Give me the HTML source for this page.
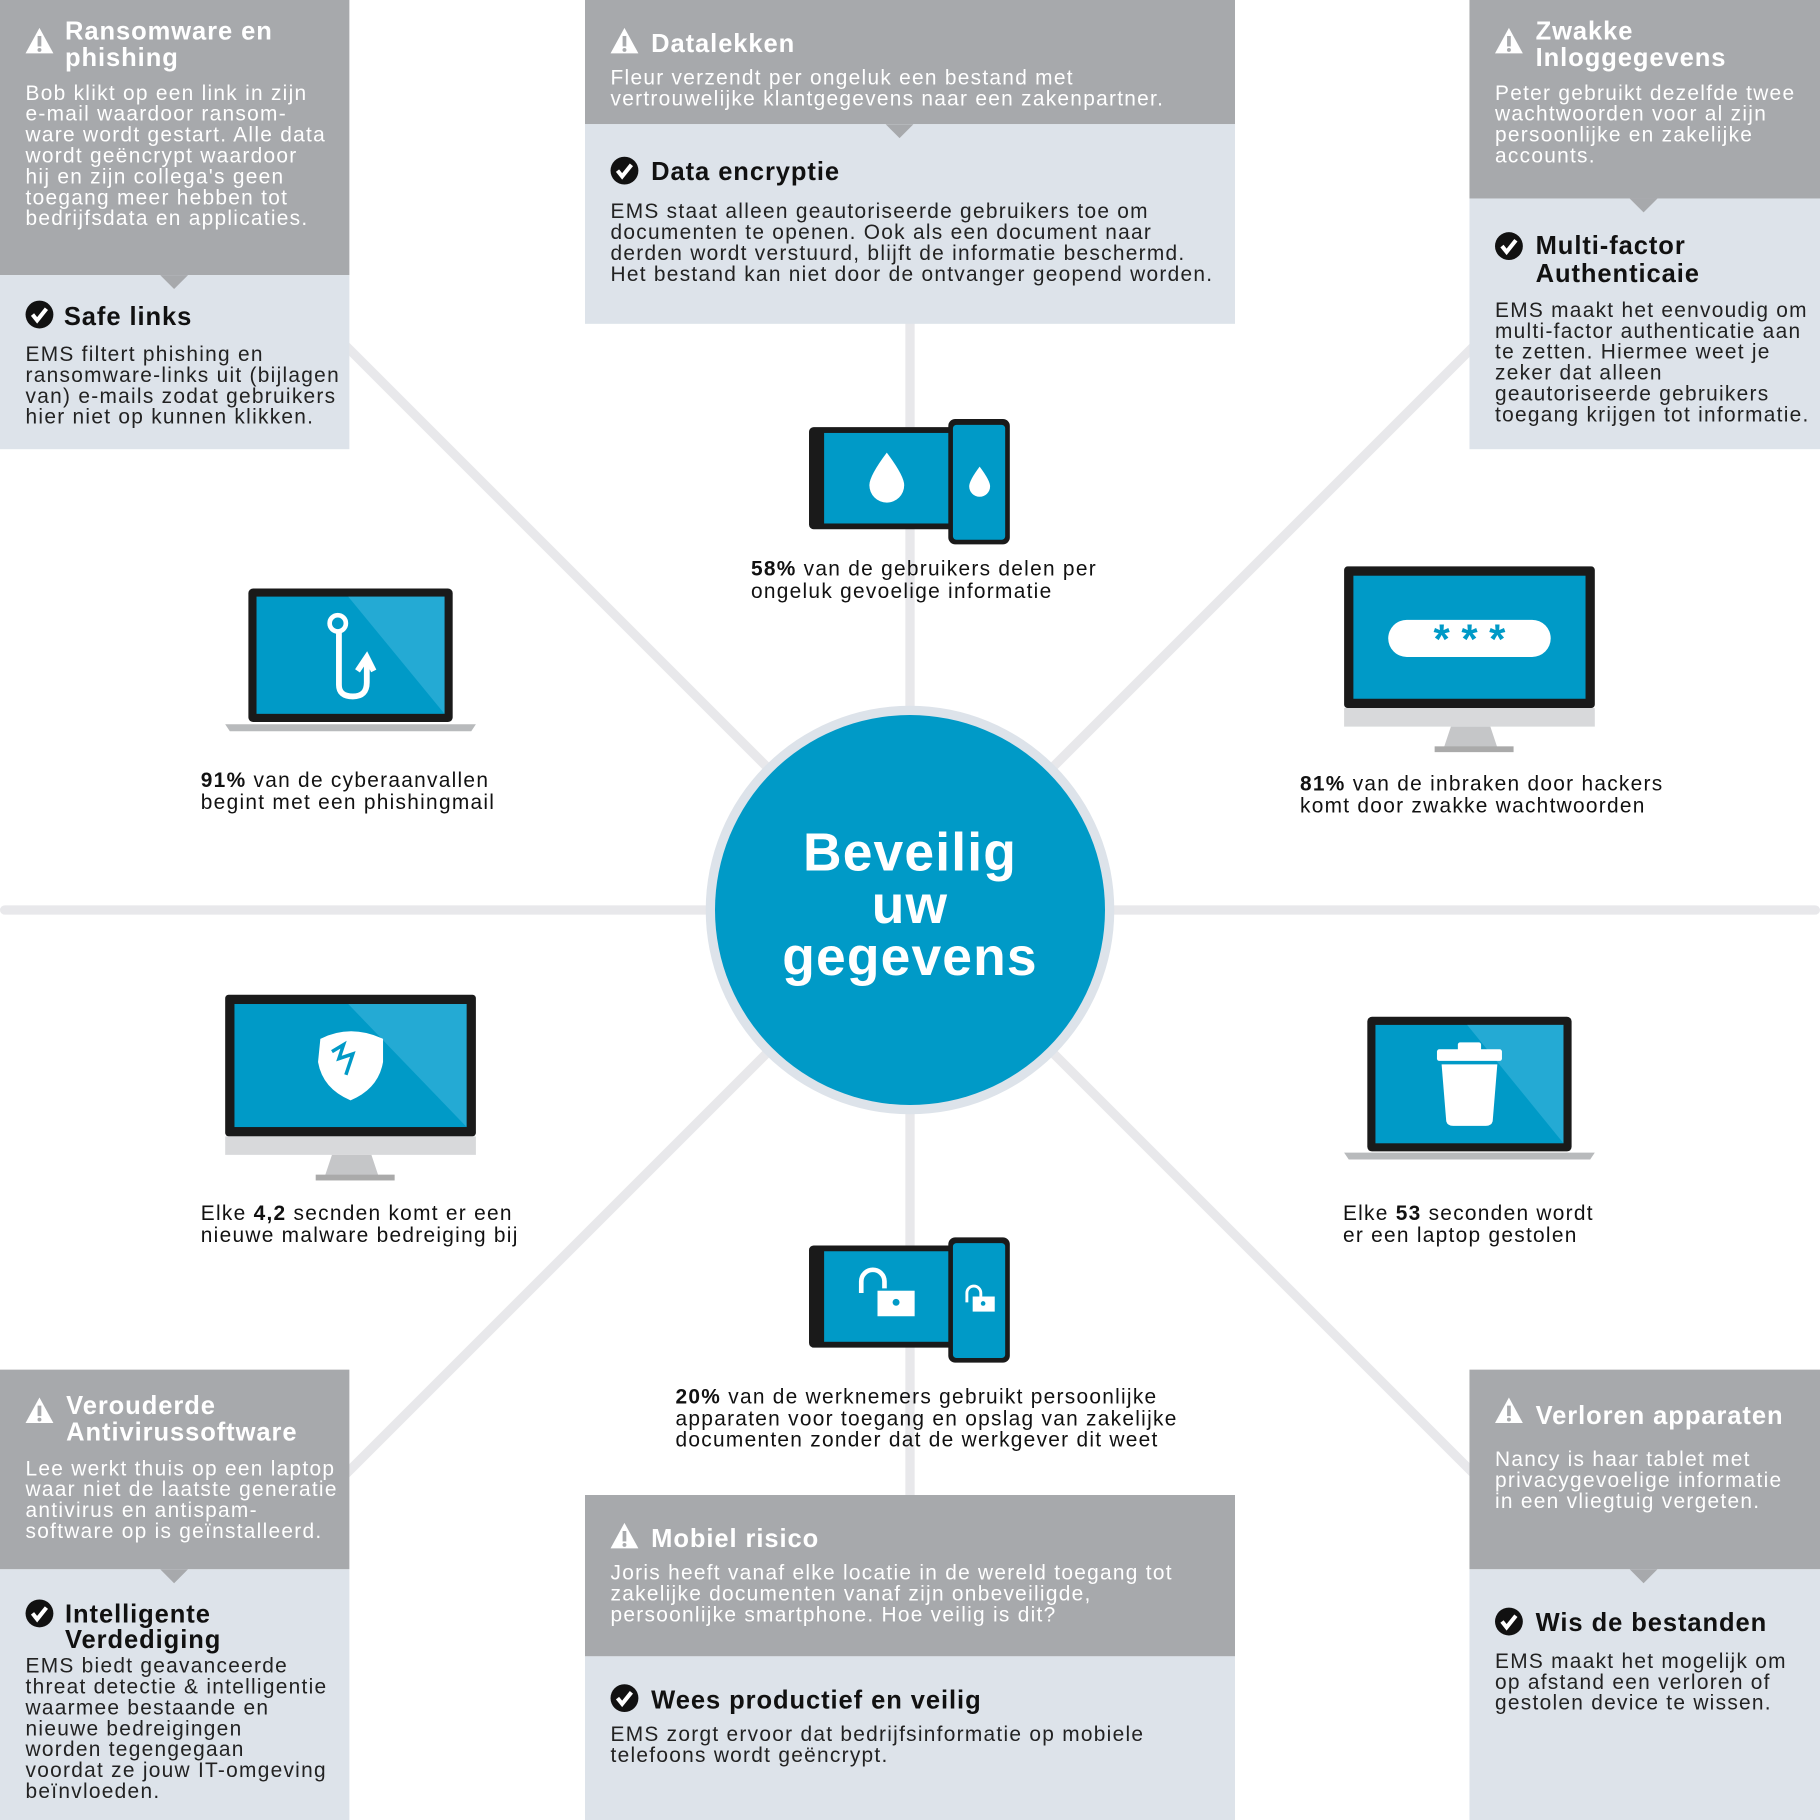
<!DOCTYPE html>
<html><head><meta charset="utf-8"><style>
html,body{margin:0;padding:0;background:#fff}
svg{display:block}
.t{font-family:"Liberation Sans",sans-serif;font-weight:bold;font-size:22px;fill:#fff;letter-spacing:0.8px}
.tb{font-family:"Liberation Sans",sans-serif;font-weight:bold;font-size:22px;fill:#111;letter-spacing:0.8px}
.w{font-family:"Liberation Sans",sans-serif;font-size:18px;fill:#fff;letter-spacing:1.1px}
.d{font-family:"Liberation Sans",sans-serif;font-size:18px;fill:#222;letter-spacing:1.1px}
.s{font-family:"Liberation Sans",sans-serif;font-size:18px;fill:#111;letter-spacing:1.1px}
</style></head><body>
<svg width="1820" height="1820" viewBox="0 0 1568 1568" xmlns="http://www.w3.org/2000/svg">
<defs>
<g id="warn"><path d="M0,-12 L12,10 L-12,10 Z" fill="#fff"/><rect x="-1.6" y="-5" width="3.2" height="9" fill="#a7a9ac"/><circle cx="0" cy="7" r="1.7" fill="#a7a9ac"/></g>
<g id="chk"><circle r="12" fill="#111"/><path d="M-6,0 L-2,5 L6,-5" stroke="#fff" stroke-width="3.5" fill="none"/></g>
</defs>
<rect width="1568" height="1568" fill="#fff"/>
<g stroke="#e8e8eb" stroke-width="8" stroke-linecap="round">
<line x1="4" y1="784" x2="1564" y2="784"/>
<line x1="784" y1="270" x2="784" y2="1290"/>
<line x1="290" y1="290" x2="1278" y2="1278"/>
<line x1="1278" y1="290" x2="290" y2="1278"/>
</g>
<rect x="0" y="0" width="301" height="237" fill="#a7a9ac"/><rect x="0" y="237" width="301" height="150" fill="#dde3ea"/>
<path d="M138,237 L162,237 L150,249 Z" fill="#a7a9ac"/>
<rect x="504" y="0" width="560" height="107" fill="#a7a9ac"/><rect x="504" y="107" width="560" height="172" fill="#dde3ea"/>
<path d="M763,107 L787,107 L775,119 Z" fill="#a7a9ac"/>
<rect x="1266" y="0" width="302" height="171" fill="#a7a9ac"/><rect x="1266" y="171" width="302" height="216" fill="#dde3ea"/>
<path d="M1404,171 L1428,171 L1416,183 Z" fill="#a7a9ac"/>
<rect x="0" y="1180" width="301" height="172" fill="#a7a9ac"/><rect x="0" y="1352" width="301" height="216" fill="#dde3ea"/>
<path d="M138,1352 L162,1352 L150,1364 Z" fill="#a7a9ac"/>
<rect x="504" y="1288" width="560" height="139" fill="#a7a9ac"/><rect x="504" y="1427" width="560" height="141" fill="#dde3ea"/>
<rect x="1266" y="1180" width="302" height="172" fill="#a7a9ac"/><rect x="1266" y="1352" width="302" height="216" fill="#dde3ea"/>
<path d="M1404,1352 L1428,1352 L1416,1364 Z" fill="#a7a9ac"/>

<use href="#warn" x="34" y="36"/>
<text class="t"><tspan x="56" y="34">Ransomware en</tspan><tspan x="56" y="57">phishing</tspan></text>
<text class="w"><tspan x="22" y="86">Bob klikt op een link in zijn</tspan><tspan x="22" y="104">e-mail waardoor ransom-</tspan><tspan x="22" y="122">ware wordt gestart. Alle data</tspan><tspan x="22" y="140">wordt geëncrypt waardoor</tspan><tspan x="22" y="158">hij en zijn collega's geen</tspan><tspan x="22" y="176">toegang meer hebben tot</tspan><tspan x="22" y="194">bedrijfsdata en applicaties.</tspan></text>
<use href="#chk" x="34" y="271"/>
<text class="tb" x="55" y="280">Safe links</text>
<text class="d"><tspan x="22" y="311">EMS filtert phishing en</tspan><tspan x="22" y="329">ransomware-links uit (bijlagen</tspan><tspan x="22" y="347">van) e-mails zodat gebruikers</tspan><tspan x="22" y="365">hier niet op kunnen klikken.</tspan></text>
<use href="#warn" x="538" y="36"/>
<text class="t" x="561" y="45">Datalekken</text>
<text class="w"><tspan x="526" y="73">Fleur verzendt per ongeluk een bestand met</tspan><tspan x="526" y="91">vertrouwelijke klantgegevens naar een zakenpartner.</tspan></text>
<use href="#chk" x="538" y="147"/>
<text class="tb" x="561" y="155">Data encryptie</text>
<text class="d"><tspan x="526" y="188">EMS staat alleen geautoriseerde gebruikers toe om</tspan><tspan x="526" y="206">documenten te openen. Ook als een document naar</tspan><tspan x="526" y="224">derden wordt verstuurd, blijft de informatie beschermd.</tspan><tspan x="526" y="242">Het bestand kan niet door de ontvanger geopend worden.</tspan></text>
<use href="#warn" x="1300" y="36"/>
<text class="t"><tspan x="1323" y="34">Zwakke</tspan><tspan x="1323" y="57">Inloggegevens</tspan></text>
<text class="w"><tspan x="1288" y="86">Peter gebruikt dezelfde twee</tspan><tspan x="1288" y="104">wachtwoorden voor al zijn</tspan><tspan x="1288" y="122">persoonlijke en zakelijke</tspan><tspan x="1288" y="140">accounts.</tspan></text>
<use href="#chk" x="1300" y="212"/>
<text class="tb"><tspan x="1323" y="219">Multi-factor</tspan><tspan x="1323" y="243">Authenticaie</tspan></text>
<text class="d"><tspan x="1288" y="273">EMS maakt het eenvoudig om</tspan><tspan x="1288" y="291">multi-factor authenticatie aan</tspan><tspan x="1288" y="309">te zetten. Hiermee weet je</tspan><tspan x="1288" y="327">zeker dat alleen</tspan><tspan x="1288" y="345">geautoriseerde gebruikers</tspan><tspan x="1288" y="363">toegang krijgen tot informatie.</tspan></text>
<use href="#warn" x="34" y="1216"/>
<text class="t"><tspan x="57" y="1218">Verouderde</tspan><tspan x="57" y="1241">Antivirussoftware</tspan></text>
<text class="w"><tspan x="22" y="1271">Lee werkt thuis op een laptop</tspan><tspan x="22" y="1289">waar niet de laatste generatie</tspan><tspan x="22" y="1307">antivirus en antispam-</tspan><tspan x="22" y="1325">software op is geïnstalleerd.</tspan></text>
<use href="#chk" x="34" y="1390"/>
<text class="tb"><tspan x="56" y="1398">Intelligente</tspan><tspan x="56" y="1420">Verdediging</tspan></text>
<text class="d"><tspan x="22" y="1441">EMS biedt geavanceerde</tspan><tspan x="22" y="1459">threat detectie &amp; intelligentie</tspan><tspan x="22" y="1477">waarmee bestaande en</tspan><tspan x="22" y="1495">nieuwe bedreigingen</tspan><tspan x="22" y="1513">worden tegengegaan</tspan><tspan x="22" y="1531">voordat ze jouw IT-omgeving</tspan><tspan x="22" y="1549">beïnvloeden.</tspan></text>
<use href="#warn" x="538" y="1324"/>
<text class="t" x="561" y="1333">Mobiel risico</text>
<text class="w"><tspan x="526" y="1361">Joris heeft vanaf elke locatie in de wereld toegang tot</tspan><tspan x="526" y="1379">zakelijke documenten vanaf zijn onbeveiligde,</tspan><tspan x="526" y="1397">persoonlijke smartphone. Hoe veilig is dit?</tspan></text>
<use href="#chk" x="538" y="1463"/>
<text class="tb" x="561" y="1472">Wees productief en veilig</text>
<text class="d"><tspan x="526" y="1500">EMS zorgt ervoor dat bedrijfsinformatie op mobiele</tspan><tspan x="526" y="1518">telefoons wordt geëncrypt.</tspan></text>
<use href="#warn" x="1300" y="1216"/>
<text class="t" x="1323" y="1227">Verloren apparaten</text>
<text class="w"><tspan x="1288" y="1263">Nancy is haar tablet met</tspan><tspan x="1288" y="1281">privacygevoelige informatie</tspan><tspan x="1288" y="1299">in een vliegtuig vergeten.</tspan></text>
<use href="#chk" x="1300" y="1397"/>
<text class="tb" x="1323" y="1405">Wis de bestanden</text>
<text class="d"><tspan x="1288" y="1437">EMS maakt het mogelijk om</tspan><tspan x="1288" y="1455">op afstand een verloren of</tspan><tspan x="1288" y="1473">gestolen device te wissen.</tspan></text>

<circle cx="784" cy="784" r="176" fill="#dde3ea"/>
<circle cx="784" cy="784" r="168" fill="#009ac7"/>
<text font-family="Liberation Sans,sans-serif" font-weight="bold" font-size="46" fill="#fff" text-anchor="middle" letter-spacing="1"><tspan x="784" y="750">Beveilig</tspan><tspan x="784" y="795">uw</tspan><tspan x="784" y="840">gegevens</tspan></text>

<rect x="214" y="507" width="176" height="115" rx="4" fill="#1a1a1a"/>
<rect x="221" y="514" width="162" height="101" fill="#009ac7"/>
<path d="M300,514 L383,514 L383,615 Z" fill="#3cb6dc" opacity="0.6"/>
<path d="M194,624 L410,624 L406,630 L198,630 Z" fill="#b8babc"/>
<path d="M292,545 L292,590 Q292,600 304,600 Q316,600 316,588 L316,570 M308,578 L316,566 L322,578" stroke="#fff" stroke-width="5" fill="none"/>
<circle cx="291" cy="537" r="7" stroke="#fff" stroke-width="4" fill="none"/>
<text class="s"><tspan x="173" y="678"><tspan font-weight="bold">91%</tspan> van de cyberaanvallen</tspan><tspan x="173" y="697">begint met een phishingmail</tspan></text>

<rect x="1158" y="488" width="216" height="122" rx="3" fill="#1a1a1a"/>
<rect x="1166" y="496" width="200" height="106" fill="#009ac7"/>
<path d="M1158,610 L1374,610 L1374,626 L1158,626 Z" fill="#d8d9db"/>
<path d="M1250,626 L1284,626 L1290,644 L1244,644 Z" fill="#c5c6c8"/>
<rect x="1236" y="643" width="68" height="5" fill="#aaa"/>
<rect x="1196" y="534" width="140" height="32" rx="16" fill="#fff"/>
<text x="1266" y="563" text-anchor="middle" font-family="Liberation Sans,sans-serif" font-weight="bold" font-size="36" fill="#009ac7">* * *</text>
<text class="s"><tspan x="1120" y="681"><tspan font-weight="bold">81%</tspan> van de inbraken door hackers</tspan><tspan x="1120" y="700">komt door zwakke wachtwoorden</tspan></text>

<rect x="697" y="368" width="124" height="88" rx="4" fill="#1a1a1a"/>
<rect x="710" y="373" width="108" height="78" fill="#009ac7"/>
<rect x="817" y="361" width="53" height="108" rx="6" fill="#1a1a1a"/>
<rect x="821" y="366" width="45" height="99" rx="3" fill="#009ac7"/>
<path d="M764,390 Q779,410 779,418 A15,15 0 0 1 749,418 Q749,410 764,390 Z" fill="#fff"/>
<path d="M844,402 Q853,414 853,419 A9,9 0 0 1 835,419 Q835,414 844,402 Z" fill="#fff"/>
<text class="s"><tspan x="647" y="496"><tspan font-weight="bold">58%</tspan> van de gebruikers delen per</tspan><tspan x="647" y="515">ongeluk gevoelige informatie</tspan></text>

<rect x="194" y="857" width="216" height="122" rx="3" fill="#1a1a1a"/>
<rect x="202" y="865" width="200" height="106" fill="#009ac7"/>
<path d="M300,865 L402,865 L402,971 Z" fill="#3cb6dc" opacity="0.6"/>
<path d="M194,979 L410,979 L410,995 L194,995 Z" fill="#d8d9db"/>
<path d="M286,995 L320,995 L326,1013 L280,1013 Z" fill="#c5c6c8"/>
<rect x="272" y="1012" width="68" height="5" fill="#aaa"/>
<path d="M276,895 Q302,882 330,895 L330,915 Q326,938 302,948 Q278,938 274,915 Z" fill="#fff"/>
<path d="M286,906 L296,900 L292,912 L304,908 L298,926" stroke="#009ac7" stroke-width="3" fill="none"/>
<text class="s"><tspan x="173" y="1051">Elke <tspan font-weight="bold">4,2</tspan> secnden komt er een</tspan><tspan x="173" y="1070">nieuwe malware bedreiging bij</tspan></text>

<rect x="1178" y="876" width="176" height="116" rx="4" fill="#1a1a1a"/>
<rect x="1185" y="883" width="162" height="102" fill="#009ac7"/>
<path d="M1264,883 L1347,883 L1347,985 Z" fill="#3cb6dc" opacity="0.6"/>
<path d="M1158,993 L1374,993 L1370,999 L1162,999 Z" fill="#b8babc"/>
<rect x="1238" y="904" width="56" height="10" rx="2" fill="#fff"/>
<rect x="1256" y="898" width="20" height="8" rx="2" fill="#fff"/>
<path d="M1242,917 L1290,917 L1286,966 Q1285,970 1280,970 L1252,970 Q1247,970 1246,966 Z" fill="#fff"/>
<text class="s"><tspan x="1157" y="1051">Elke <tspan font-weight="bold">53</tspan> seconden wordt</tspan><tspan x="1157" y="1070">er een laptop gestolen</tspan></text>

<rect x="697" y="1073" width="124" height="88" rx="4" fill="#1a1a1a"/>
<rect x="710" y="1078" width="108" height="78" fill="#009ac7"/>
<rect x="817" y="1066" width="53" height="108" rx="6" fill="#1a1a1a"/>
<rect x="821" y="1071" width="45" height="99" rx="3" fill="#009ac7"/>
<path d="M742,1114 L742,1104 A10,10 0 0 1 762,1104 L762,1110" stroke="#fff" stroke-width="4" fill="none"/>
<rect x="756" y="1112" width="32" height="22" fill="#fff"/><circle cx="772" cy="1122" r="3" fill="#009ac7"/>
<path d="M833,1122 L833,1114 A6,6 0 0 1 845,1114 L845,1117" stroke="#fff" stroke-width="2.5" fill="none"/>
<rect x="838" y="1117" width="19" height="13" fill="#fff"/><circle cx="847" cy="1123" r="2" fill="#009ac7"/>
<text class="s"><tspan x="582" y="1209"><tspan font-weight="bold">20%</tspan> van de werknemers gebruikt persoonlijke</tspan><tspan x="582" y="1228">apparaten voor toegang en opslag van zakelijke</tspan><tspan x="582" y="1246">documenten zonder dat de werkgever dit weet</tspan></text>
</svg>
</body></html>
